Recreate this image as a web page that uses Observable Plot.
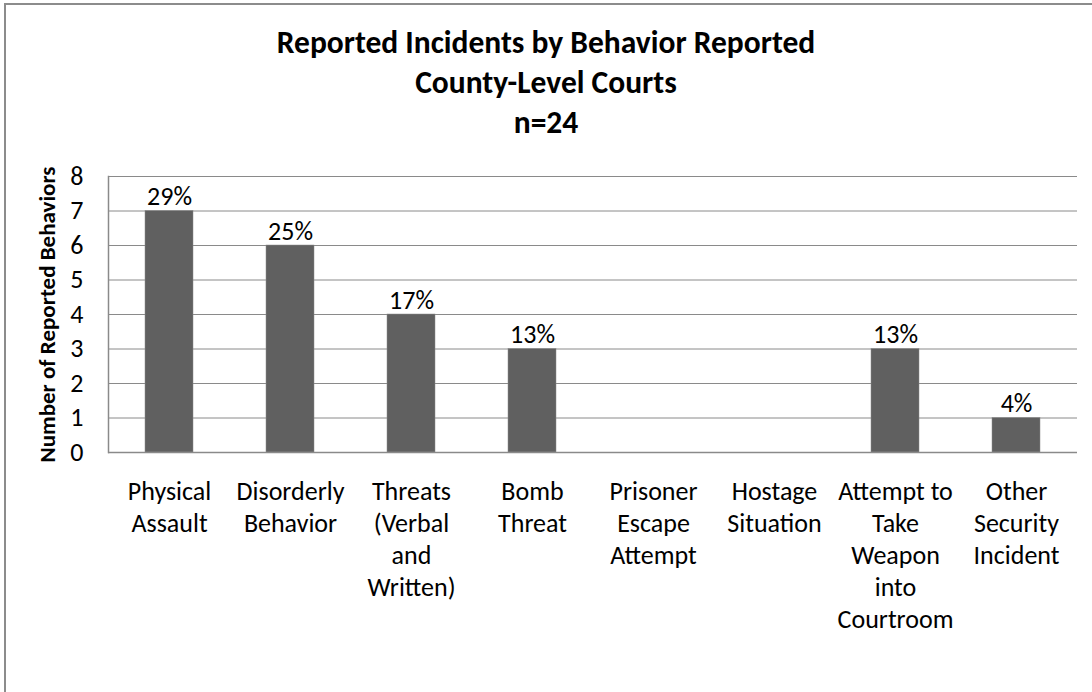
<!DOCTYPE html>
<html>
<head>
<meta charset="utf-8">
<script src="https://cdn.jsdelivr.net/npm/d3@7"></script>
<script src="https://cdn.jsdelivr.net/npm/@observablehq/plot@0.6"></script>
<style>
  html, body { margin: 0; padding: 0; background: #fff; overflow: hidden; width: 1092px; height: 692px; }
  #chart { position: absolute; left: 0; top: 0; width: 1092px; }
  #frame { position: absolute; left: 4px; top: 3px; width: 1200px; height: 800px; border: 2px solid #8c8c8c; box-sizing: border-box; background: transparent; z-index: 5; pointer-events: none; }
  .title { font-family: Carlito, Calibri, Lato, sans-serif; font-weight: bold; font-size: 31.5px; line-height: 40px; text-align: center; color: #000; padding-top: 22px; height: 120px; }
</style>
</head>
<body>
<div id="chart">
  <div class="title">Reported Incidents by Behavior Reported<br>County-Level Courts<br>n=24</div>
  <div id="plot"></div>
</div>
<div id="frame"></div>
<script>
const categories = ["Physical Assault", "Disorderly Behavior", "Threats (Verbal and Written)", "Bomb Threat", "Prisoner Escape Attempt", "Hostage Situation", "Attempt to Take Weapon into Courtroom", "Other Security Incident"];
const tickLabels = ["Physical\nAssault", "Disorderly\nBehavior", "Threats\n(Verbal\nand\nWritten)", "Bomb\nThreat", "Prisoner\nEscape\nAttempt", "Hostage\nSituation", "Attempt to\nTake\nWeapon\ninto\nCourtroom", "Other\nSecurity\nIncident"];
const counts = [7, 6, 4, 3, 0, 0, 3, 1];
const percentLabels = ["29%", "25%", "17%", "13%", "", "", "13%", "4%"];
const yTicks = [0, 1, 2, 3, 4, 5, 6, 7, 8];
const yTitle = "Number of Reported Behaviors";

const data = categories.map((c, i) => ({category: c, count: counts[i], pct: percentLabels[i]}));
const labelOf = new Map(categories.map((c, i) => [c, tickLabels[i]]));
const font = "Carlito, Calibri, Lato, sans-serif";

const chart = Plot.plot({
  width: 1092,
  height: 550,
  marginTop: 34,
  marginLeft: 108,
  marginRight: 15,
  marginBottom: 240,
  style: {fontFamily: font, fontSize: "26px", color: "#000", background: "transparent", overflow: "visible"},
  x: {domain: categories, paddingInner: 0.6, paddingOuter: 0.3},
  y: {domain: [0, 8]},
  marks: [
    Plot.ruleY(yTicks.filter(d => d > 0), {stroke: "#8a8a8a", strokeWidth: 1, strokeOpacity: 1}),
    Plot.barY(data, {x: "category", y: "count", fill: "#606060", stroke: "#8a8a8a", strokeWidth: 0.5}),
    Plot.ruleY([0], {stroke: "#8a8a8a", strokeWidth: 1.5}),
    Plot.frame({anchor: "left", stroke: "#8a8a8a", strokeWidth: 1.5}),
    Plot.text(data.filter(d => d.pct), {x: "category", y: "count", text: "pct", lineAnchor: "middle", dy: -14, fontSize: 26, fill: "#000"}),
    Plot.axisY({ticks: yTicks, tickSize: 0, tickPadding: 25, fontSize: 26, label: null, tickFormat: d => String(d)}),
    Plot.axisX({tickSize: 0, tickPadding: 25, fontSize: 26, lineHeight: 1.23, label: null, tickFormat: d => labelOf.get(d)}),
    Plot.text([yTitle], {frameAnchor: "left", dx: -61, rotate: -90, fontSize: 23, fontWeight: "bold", fill: "#000", textAnchor: "middle"})
  ]
});
document.getElementById("plot").appendChild(chart);
</script>
</body>
</html>
